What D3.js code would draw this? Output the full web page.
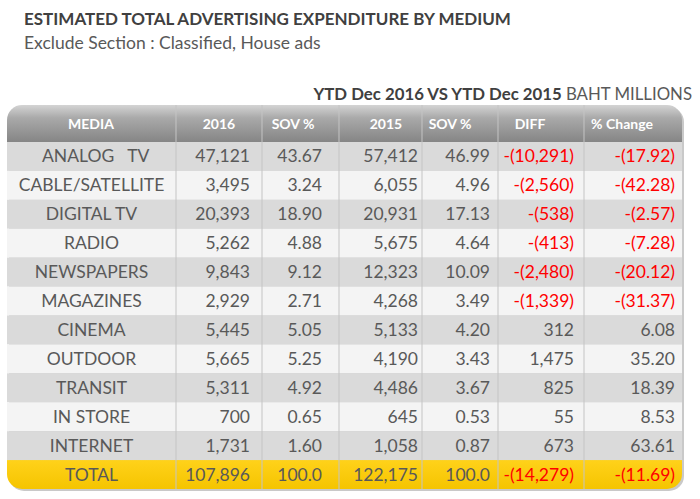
<!DOCTYPE html>
<html>
<head>
<meta charset="utf-8">
<script src="https://cdn.jsdelivr.net/npm/d3@7"></script>
<style>
  body { margin: 0; background: #fff; }
  text { font-family: Lato, "Open Sans", sans-serif; white-space: pre; }
</style>
</head>
<body>
<div id="chart"></div>
<script>
// Table data
var headers = ["MEDIA", "2016", "SOV %", "2015", "SOV %", "DIFF", "% Change"];
var media = ["  ANALOG   TV", "CABLE/SATELLITE", "DIGITAL TV", "RADIO", "NEWSPAPERS", "MAGAZINES",
  "CINEMA", "OUTDOOR", "TRANSIT", "IN STORE", "INTERNET", "TOTAL"];
var spend2016 = [47121, 3495, 20393, 5262, 9843, 2929, 5445, 5665, 5311, 700, 1731, 107896];
var sov2016 = [43.67, 3.24, 18.90, 4.88, 9.12, 2.71, 5.05, 5.25, 4.92, 0.65, 1.60, 100.0];
var spend2015 = [57412, 6055, 20931, 5675, 12323, 4268, 5133, 4190, 4486, 645, 1058, 122175];
var sov2015 = [46.99, 4.96, 17.13, 4.64, 10.09, 3.49, 4.20, 3.43, 3.67, 0.53, 0.87, 100.0];
var diff = [-10291, -2560, -538, -413, -2480, -1339, 312, 1475, 825, 55, 673, -14279];
var pctChange = [-17.92, -42.28, -2.57, -7.28, -20.12, -31.37, 6.08, 35.20, 18.39, 8.53, 63.61, -11.69];

var width = 700;
var height = 499;

// table frame
var tLeft = 7, tRight = 682, tTop = 105, headBottom = 142, tBottom = 489;
// column edges (left side of each column) and the right edge of the numbers in it
var colEdges = [tLeft, 176, 262, 339, 422, 498, 584, tRight];
var headX = [91, 219, 293, 386, 450, 530, 622];
var numRight = [0, 250, 322, 418, 490, 574, 675];

var fmtInt = d3.format(",");
var fmt2 = d3.format(".2f");

function fmtSigned(v, f) {
  return v < 0 ? "-(" + f(-v) + ")" : f(v);
}

var svg = d3.select("#chart").append("svg")
  .attr("width", width)
  .attr("height", height);

var defs = svg.append("defs");

var headGrad = defs.append("linearGradient")
  .attr("id", "headGrad")
  .attr("x1", 0).attr("y1", 0).attr("x2", 0).attr("y2", 1);
headGrad.append("stop").attr("offset", "0%").attr("stop-color", "#d4d4d4");
headGrad.append("stop").attr("offset", "35%").attr("stop-color", "#a9a9a9");
headGrad.append("stop").attr("offset", "100%").attr("stop-color", "#858585");

var totGrad = defs.append("linearGradient")
  .attr("id", "totGrad")
  .attr("x1", 0).attr("y1", 0).attr("x2", 0).attr("y2", 1);
totGrad.append("stop").attr("offset", "0%").attr("stop-color", "#ffd21a");
totGrad.append("stop").attr("offset", "100%").attr("stop-color", "#f5c400");

defs.append("clipPath").attr("id", "tableClip")
  .append("rect")
  .attr("x", tLeft).attr("y", tTop)
  .attr("width", tRight - tLeft).attr("height", tBottom - tTop)
  .attr("rx", 15).attr("ry", 15);

// titles
svg.append("text")
  .attr("x", 24).attr("y", 25)
  .attr("font-size", 17)
  .attr("font-weight", "bold")
  .attr("fill", "#404040")
  .text("ESTIMATED TOTAL ADVERTISING EXPENDITURE BY MEDIUM");

svg.append("text")
  .attr("x", 24).attr("y", 49)
  .attr("font-size", 17.5)
  .attr("fill", "#595959")
  .text("Exclude Section : Classified, House ads");

var sub = svg.append("text")
  .attr("x", 692).attr("y", 100)
  .attr("text-anchor", "end")
  .attr("font-size", 16.8)
  .attr("fill", "#404040");
sub.append("tspan").attr("font-weight", "bold").text("YTD Dec 2016 VS YTD Dec 2015 ");
sub.append("tspan").attr("fill", "#595959").text("BAHT MILLIONS");

// shadow behind table
svg.append("rect")
  .attr("x", tLeft + 2).attr("y", tTop + 2)
  .attr("width", tRight - tLeft).attr("height", tBottom - tTop)
  .attr("rx", 15).attr("ry", 15)
  .attr("fill", "#c9c9c9");

var table = svg.append("g").attr("clip-path", "url(#tableClip)");

var y = d3.scaleBand()
  .domain(d3.range(media.length))
  .range([headBottom, tBottom]);

// header
table.append("rect")
  .attr("x", tLeft).attr("y", tTop)
  .attr("width", tRight - tLeft).attr("height", headBottom - tTop)
  .attr("fill", "url(#headGrad)");

// rows
table.selectAll(".rowBg")
  .data(media)
  .enter()
  .append("rect")
  .attr("class", "rowBg")
  .attr("x", tLeft)
  .attr("y", function(d, i) { return y(i); })
  .attr("width", tRight - tLeft)
  .attr("height", y.bandwidth())
  .attr("fill", function(d, i) {
    if (i === media.length - 1) return "url(#totGrad)";
    return i % 2 === 0 ? "#dadada" : "#f4f4f4";
  });

// column separators
table.selectAll(".sep")
  .data(colEdges.slice(1, -1))
  .enter()
  .append("line")
  .attr("class", "sep")
  .attr("x1", function(d) { return d; })
  .attr("x2", function(d) { return d; })
  .attr("y1", tTop)
  .attr("y2", tBottom)
  .attr("stroke", "#c4c4c4")
  .attr("stroke-width", 1);

// header texts
table.selectAll(".head")
  .data(headers)
  .enter()
  .append("text")
  .attr("class", "head")
  .attr("x", function(d, i) { return headX[i]; })
  .attr("y", (tTop + headBottom) / 2 + 5)
  .attr("text-anchor", "middle")
  .attr("font-size", 14)
  .attr("font-weight", "bold")
  .attr("fill", "#ffffff")
  .text(function(d) { return d; });

// cell texts
var rows = table.selectAll(".row")
  .data(media)
  .enter()
  .append("g")
  .attr("class", "row")
  .attr("transform", function(d, i) {
    return "translate(0," + (y(i) + y.bandwidth() / 2 + 6) + ")";
  });

rows.append("text")
  .attr("x", (colEdges[0] + colEdges[1]) / 2)
  .attr("text-anchor", "middle")
  .attr("font-size", 17.5)
  .attr("fill", "#595959")
  .text(function(d) { return d; });

function addCol(k, values, f, colorNeg) {
  rows.append("text")
    .attr("x", numRight[k])
    .attr("text-anchor", "end")
    .attr("font-size", 17.5)
    .attr("fill", function(d, i) {
      return colorNeg && values[i] < 0 ? "#ff0000" : "#595959";
    })
    .text(function(d, i) { return f(values[i], i); });
}

var last = media.length - 1;
addCol(1, spend2016, function(v) { return fmtInt(v); }, false);
addCol(2, sov2016, function(v, i) { return i === last ? v.toFixed(1) : fmt2(v); }, false);
addCol(3, spend2015, function(v) { return fmtInt(v); }, false);
addCol(4, sov2015, function(v, i) { return i === last ? v.toFixed(1) : fmt2(v); }, false);
addCol(5, diff, function(v) { return fmtSigned(v, fmtInt); }, true);
addCol(6, pctChange, function(v) { return fmtSigned(v, fmt2); }, true);
</script>
</body>
</html>
